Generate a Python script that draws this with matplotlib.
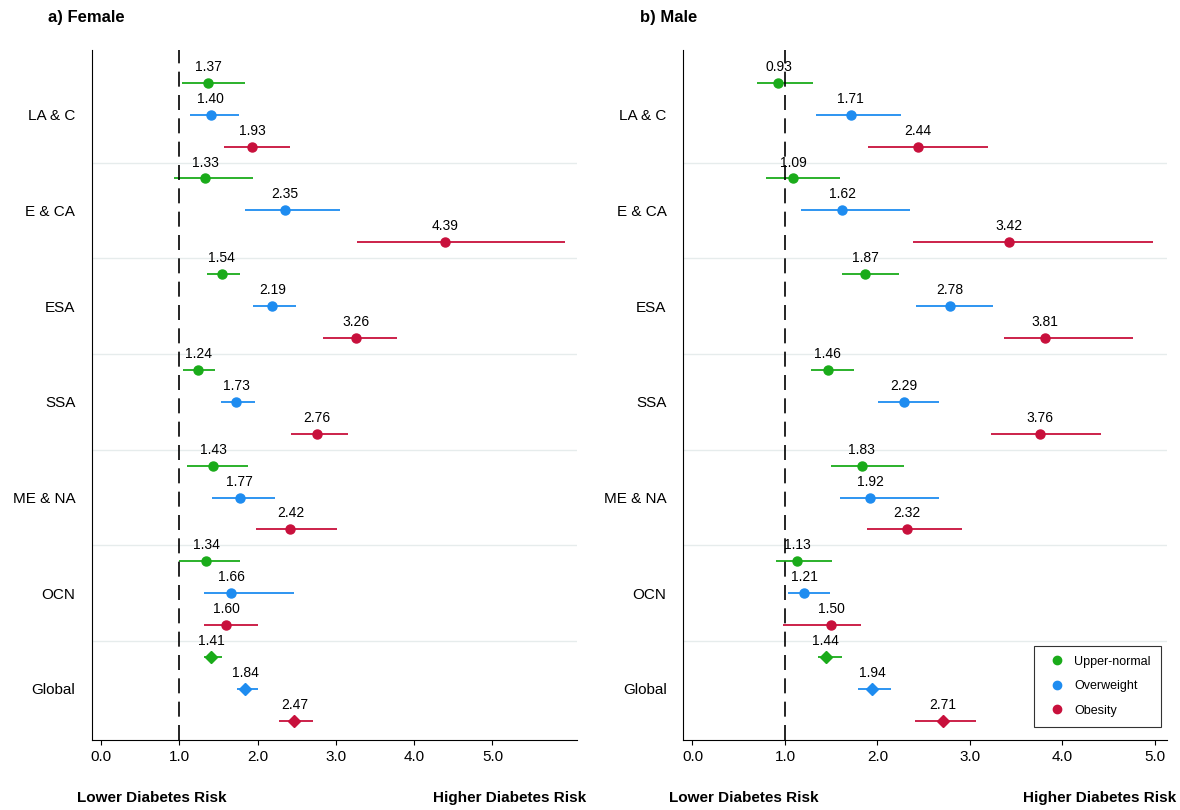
import numpy as np
import matplotlib.pyplot as plt
from matplotlib.lines import Line2D

regions = ["LA & C", "E & CA", "ESA", "SSA", "ME & NA", "OCN", "Global"]
groups = ["Upper-normal", "Overweight", "Obesity"]
colors = ["#1aab1a", "#1e8cf0", "#c8103c"]

# female: [region][group] -> (estimate, low, high)
fem_est = [[1.37, 1.40, 1.93], [1.33, 2.35, 4.39], [1.54, 2.19, 3.26], [1.24, 1.73, 2.76],
           [1.43, 1.77, 2.42], [1.34, 1.66, 1.60], [1.41, 1.84, 2.47]]
fem_lo = [[1.03, 1.13, 1.57], [0.93, 1.84, 3.27], [1.35, 1.94, 2.84], [1.05, 1.53, 2.43],
          [1.10, 1.42, 1.98], [1.00, 1.32, 1.31], [1.31, 1.74, 2.27]]
fem_hi = [[1.84, 1.76, 2.41], [1.94, 3.05, 5.93], [1.78, 2.49, 3.78], [1.46, 1.97, 3.16],
          [1.88, 2.22, 3.02], [1.77, 2.46, 2.00], [1.55, 2.00, 2.71]]
male_est = [[0.93, 1.71, 2.44], [1.09, 1.62, 3.42], [1.87, 2.78, 3.81], [1.46, 2.29, 3.76],
            [1.83, 1.92, 2.32], [1.13, 1.21, 1.50], [1.44, 1.94, 2.71]]
male_lo = [[0.70, 1.34, 1.90], [0.80, 1.17, 2.38], [1.62, 2.42, 3.37], [1.28, 2.01, 3.23],
           [1.50, 1.59, 1.89], [0.90, 1.03, 0.98], [1.36, 1.79, 2.41]]
male_hi = [[1.30, 2.25, 3.20], [1.60, 2.35, 4.98], [2.23, 3.25, 4.76], [1.75, 2.66, 4.42],
           [2.29, 2.67, 2.91], [1.51, 1.49, 1.82], [1.62, 2.15, 3.06]]

plt.rcParams['font.family'] = ['Liberation Sans', 'DejaVu Sans']

fig = plt.figure(figsize=(11.8, 8.1), dpi=100)
axf = fig.add_axes([0.078, 0.0864, 0.411, 0.852])
axm = fig.add_axes([0.579, 0.0864, 0.41, 0.852])


def draw(ax, est, lo, hi, xlim, title):
    for r, reg in enumerate(regions):
        for g in range(3):
            y = r * 3 + g
            ax.hlines(y, lo[r][g], hi[r][g], color=colors[g], lw=1.3)
            mk = 'D' if reg == "Global" else 'o'
            ax.plot(est[r][g], y, mk, color=colors[g], ms=6.5)
            ax.text(est[r][g], y - 0.5, f"{est[r][g]:.2f}", ha='center', va='center', fontsize=10)
        if r > 0:
            ax.axhline(r * 3 - 0.5, color='#e6ecec', lw=1)
    ax.axvline(1, color='black', ls=(0, (9, 5)), lw=1.2)
    ax.set_ylim(20.6, -1.03)
    ax.set_xlim(*xlim)
    ax.set_yticks([r * 3 + 1 for r in range(len(regions))])
    ax.set_yticklabels(regions, fontsize=11)
    ax.tick_params(axis='y', length=0, pad=12)
    ax.set_xticks(np.arange(0, 6))
    ax.set_xticklabels([f"{v:.1f}" for v in range(6)], fontsize=11)
    for s in ['top', 'right']:
        ax.spines[s].set_visible(False)
    ax.text(-0.09, 1.04, title, transform=ax.transAxes, fontsize=12, fontweight='bold', ha='left')
    ax.text(-0.03, -0.09, "Lower Diabetes Risk", transform=ax.transAxes, fontsize=11,
            fontweight='bold', ha='left')
    ax.text(1.02, -0.09, "Higher Diabetes Risk", transform=ax.transAxes, fontsize=11,
            fontweight='bold', ha='right')


draw(axf, fem_est, fem_lo, fem_hi, (-0.115, 6.08), "a) Female")
draw(axm, male_est, male_lo, male_hi, (-0.1, 5.13), "b) Male")

handles = [Line2D([], [], marker='o', ls='', color=c, ms=6) for c in colors]
leg = axm.legend(handles, groups, loc='lower right', fontsize=9, frameon=True, fancybox=False,
                 edgecolor='black', handletextpad=0.4, borderpad=0.8, labelspacing=1.0,
                 bbox_to_anchor=(1.0, 0.01))
leg.get_frame().set_linewidth(0.8)

fig.savefig("out.png")
